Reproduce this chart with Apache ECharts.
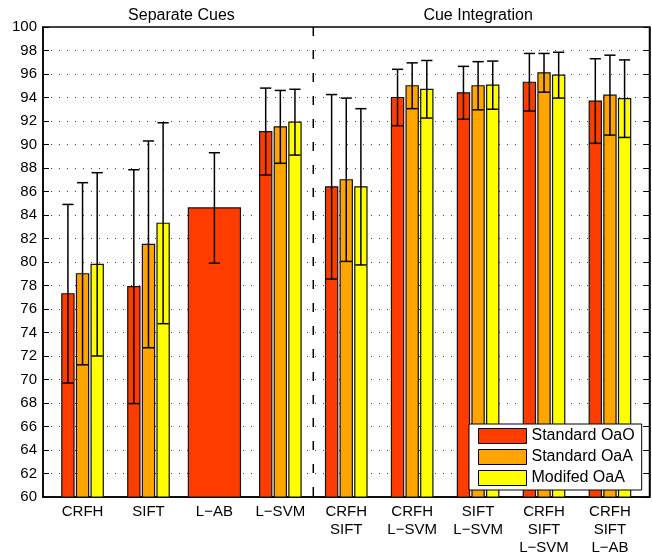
<!DOCTYPE html>
<html>
<head>
<meta charset="utf-8">
<script src="https://cdn.jsdelivr.net/npm/echarts@6/dist/echarts.min.js"></script>
<style>
html, body { margin: 0; padding: 0; background: #fff; }
#chart { width: 652px; height: 558px; }
</style>
</head>
<body>
<div id="chart"></div>
<script>
var categories = ['CRFH', 'SIFT', 'L\u2212AB', 'L\u2212SVM', 'CRFH\nSIFT', 'CRFH\nL\u2212SVM',
                  'SIFT\nL\u2212SVM', 'CRFH\nSIFT\nL\u2212SVM', 'CRFH\nSIFT\nL\u2212AB'];
var seriesNames = ['Standard OaO', 'Standard OaA', 'Modifed OaA'];
var colors = ['#ff3c00', '#ffa500', '#ffff00'];

// mean accuracy and error bar half-length per cue combination
var oaoMean = [77.3, 77.9, 84.6, 91.1, 86.4, 94.0, 94.4, 95.3, 93.7];
var oaoErr  = [7.6, 9.95, 4.7, 3.7, 7.85, 2.4, 2.25, 2.45, 3.6];
var oaaMean = [79.0, 81.5, null, 91.5, 87.0, 95.0, 95.0, 96.1, 94.2];
var oaaErr  = [7.75, 8.8, null, 3.1, 6.95, 1.95, 2.05, 1.65, 3.4];
var modMean = [79.8, 83.3, null, 91.9, 86.4, 94.7, 95.05, 95.9, 93.9];
var modErr  = [7.8, 8.55, null, 2.8, 6.65, 2.45, 2.05, 1.95, 3.3];

var groupTitles = ['Separate Cues', 'Cue Integration'];
var groupTitleAt = [2.5, 7];
var dividerAt = 4.5;

var FONT = '"Liberation Sans", Arial, sans-serif';
var chart = echarts.init(document.getElementById('chart'), null, {renderer: 'canvas'});

function toData(means, errs) {
    var out = [];
    for (var i = 0; i < means.length; i++) {
        if (means[i] != null) out.push([i + 1, means[i], errs[i]]);
    }
    return out;
}

function barSeries(idx, means, errs) {
    return {
        type: 'custom',
        name: seriesNames[idx],
        itemStyle: {color: colors[idx]},
        data: toData(means, errs),
        z: 3,
        renderItem: function (params, api) {
            var x = api.value(0), m = api.value(1), e = api.value(2);
            var single = oaaMean[x - 1] == null;
            var w = single ? 0.79 : 0.185;
            var off = single ? 0 : (idx - 1) * 0.222;
            var p0 = api.coord([x + off - w / 2, m]);
            var p1 = api.coord([x + off + w / 2, 60]);
            var cx = api.coord([x + off, m])[0];
            var top = api.coord([x + off, m + e])[1];
            var bot = api.coord([x + off, m - e])[1];
            var cap = api.size([0.085, 0])[0];
            var ls = {stroke: '#000', lineWidth: 1.5};
            return {
                type: 'group',
                children: [
                    {type: 'rect', shape: {x: p0[0], y: p0[1], width: p1[0] - p0[0], height: p1[1] - p0[1]},
                     style: {fill: colors[idx], stroke: '#111', lineWidth: 1.2}},
                    {type: 'line', shape: {x1: cx, y1: top, x2: cx, y2: bot}, style: ls},
                    {type: 'line', shape: {x1: cx - cap, y1: top, x2: cx + cap, y2: top}, style: ls},
                    {type: 'line', shape: {x1: cx - cap, y1: bot, x2: cx + cap, y2: bot}, style: ls}
                ]
            };
        }
    };
}

var option = {
    animation: false,
    textStyle: {fontFamily: FONT},
    grid: {left: 43, right: 2.5, top: 27, bottom: 61, show: true,
           borderColor: '#000', borderWidth: 1.5, backgroundColor: 'transparent'},
    legend: {
        orient: 'vertical', left: 469, top: 424,
        itemWidth: 48, itemHeight: 15, itemGap: 5,
        padding: [4, 7, 4, 9],
        backgroundColor: '#fff', borderColor: '#000', borderWidth: 1, borderRadius: 0,
        textStyle: {fontSize: 16, color: '#000', fontFamily: FONT},
        itemStyle: {borderColor: '#000', borderWidth: 1},
        data: seriesNames.map(function (n) { return {name: n, icon: 'rect'}; })
    },
    xAxis: {
        type: 'value', min: 0.4, max: 9.6,
        axisLine: {show: true, lineStyle: {color: '#000', width: 1.5}},
        axisTick: {show: false},
        splitLine: {show: false},
        axisLabel: {
            customValues: [1, 2, 3, 4, 5, 6, 7, 8, 9],
            formatter: function (v) { return categories[Math.round(v) - 1]; },
            fontSize: 15, lineHeight: 18, margin: 6, color: '#000', fontFamily: FONT
        }
    },
    yAxis: [{
        type: 'value', min: 60, max: 100, interval: 2,
        axisLine: {show: true, lineStyle: {color: '#000', width: 1.5}},
        axisTick: {show: true, inside: true, length: 6, lineStyle: {color: '#000', width: 1}},
        axisLabel: {fontSize: 15, color: '#000', margin: 6, fontFamily: FONT},
        splitLine: {show: true, lineStyle: {type: [1, 7], color: '#444', width: 1}}
    }, {
        type: 'value', min: 60, max: 100, interval: 2, position: 'right',
        axisLine: {show: true, lineStyle: {color: '#000', width: 1.5}},
        axisTick: {show: true, inside: true, length: 6, lineStyle: {color: '#000', width: 1}},
        axisLabel: {show: false},
        splitLine: {show: false}
    }],
    series: [
        {
            type: 'custom', name: 'divider', data: [[dividerAt]], z: 2, silent: true,
            renderItem: function (params, api) {
                var a = api.coord([api.value(0), 100]);
                var b = api.coord([api.value(0), 60]);
                return {type: 'line', shape: {x1: a[0], y1: a[1], x2: b[0], y2: b[1]},
                        style: {stroke: '#000', lineWidth: 1.5, lineDash: [9, 14]}};
            }
        },
        barSeries(0, oaoMean, oaoErr),
        barSeries(1, oaaMean, oaaErr),
        barSeries(2, modMean, modErr)
    ]
};

chart.setOption(option);

var titlePx = groupTitleAt.map(function (x) { return chart.convertToPixel({xAxisIndex: 0}, x); });
chart.setOption({
    graphic: groupTitles.map(function (t, i) {
        return {type: 'text', x: titlePx[i], y: 16,
                style: {text: t, fontSize: 16, fontFamily: FONT, fill: '#000',
                        align: 'center', verticalAlign: 'middle'}};
    })
});
</script>
</body>
</html>
